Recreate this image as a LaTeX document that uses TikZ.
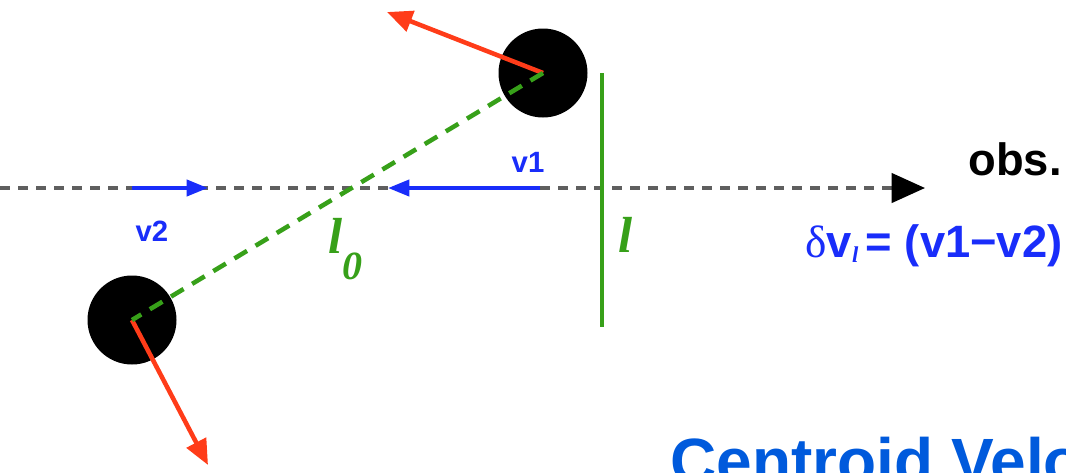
\documentclass[tikz,border=0pt]{standalone}
\usepackage{fontspec}
\setmainfont{Liberation Sans}
\newfontfamily\timesfont{Liberation Serif}
\usetikzlibrary{positioning, arrows.meta, calc}

\definecolor{velblue}{RGB}{25,45,250}
\definecolor{sepgreen}{RGB}{55,160,25}
\definecolor{motionred}{RGB}{255,60,25}
\definecolor{titleblue}{RGB}{0,90,220}
\definecolor{axisgray}{RGB}{95,95,95}

\begin{document}
\begin{tikzpicture}[
    x=0.75pt, y=-0.75pt,    % 1 unit = 1 pixel of the picture
    line width=3pt,
    font=\bfseries,
    ball/.style={circle, fill=black, minimum size=66.75pt, inner sep=0pt},
    motion/.style={motionred, line width=3.4pt, -{Triangle[length=19pt, width=16pt]}},
    vel/.style={velblue, -{Triangle[length=16pt, width=12pt]}},
    vlabel/.style={text=velblue, font=\fontsize{22}{26}\selectfont\bfseries},
    sep/.style={sepgreen, font=\fontsize{38}{40}\selectfont\timesfont\bfseries\itshape}
]
    \useasboundingbox (0,0) rectangle (1066,472);
    \clip (0,0) rectangle (1066,472);

    % --- 1. line of sight ---
    \coordinate (losStart) at (0,188);
    \coordinate (losEnd) at (925,188);
    \draw [axisgray, line width=2.4pt, dash pattern=on 7.5pt off 6pt,
           -{Triangle[length=25pt, width=22pt, color=black]}] (losStart) -- (losEnd);
    \node [anchor=base west, font=\fontsize{34}{40}\selectfont\bfseries] (obs) at (962,175) {obs.};

    % --- 2. the two clumps ---
    \node [ball] (clumpA) at (543,73) {};
    \node [ball] (clumpB) at (132,320) {};

    % their motions
    \coordinate (tipA) at (387,12);
    \coordinate (tipB) at (208,465);
    \draw [motion] (clumpA.center) -- (tipA);
    \draw [motion] (clumpB.center) -- (tipB);

    % separation l0 and projected size l
    \draw [sepgreen, line width=3.4pt, dash pattern=on 11pt off 7.5pt] (clumpA.center) -- (clumpB.center);
    \coordinate (sizeTop) at (602,73);
    \coordinate (sizeBot) at (602,327);
    \draw [sepgreen, line width=2.6pt] (sizeTop) -- (sizeBot);
    \node [sep, anchor=base] (size) at (626,252) {l};
    \node [sep, anchor=base west] (sepl) at (322,253) {l\raisebox{-20pt}{\fontsize{30}{30}\selectfont 0}};

    % --- 3. line-of-sight velocities ---
    \coordinate (v1Start) at (540,188);
    \coordinate (v1End) at (388,188);
    \coordinate (v2Start) at (132,188);
    \coordinate (v2End) at (208,188);
    \draw [vel] (v1Start) -- (v1End);
    \draw [vel] (v2Start) -- (v2End);
    \node [vlabel] (v1) at (528,162) {v1};
    \node [vlabel] (v2) at (152,231) {v2};

    \node [anchor=base west, text=velblue, font=\fontsize{34}{38}\selectfont\bfseries] (dv) at (799,257)
        {{\mdseries\timesfont δ}v\raisebox{-4pt}{\fontsize{17}{17}\selectfont\timesfont\itshape l}\,= (v1−v2)};

    % --- 4. heading ---
    \node [anchor=base west, text=titleblue, font=\fontsize{48}{56}\selectfont\bfseries] (heading) at (664,483) {Centroid Velo};

\end{tikzpicture}
\end{document}
